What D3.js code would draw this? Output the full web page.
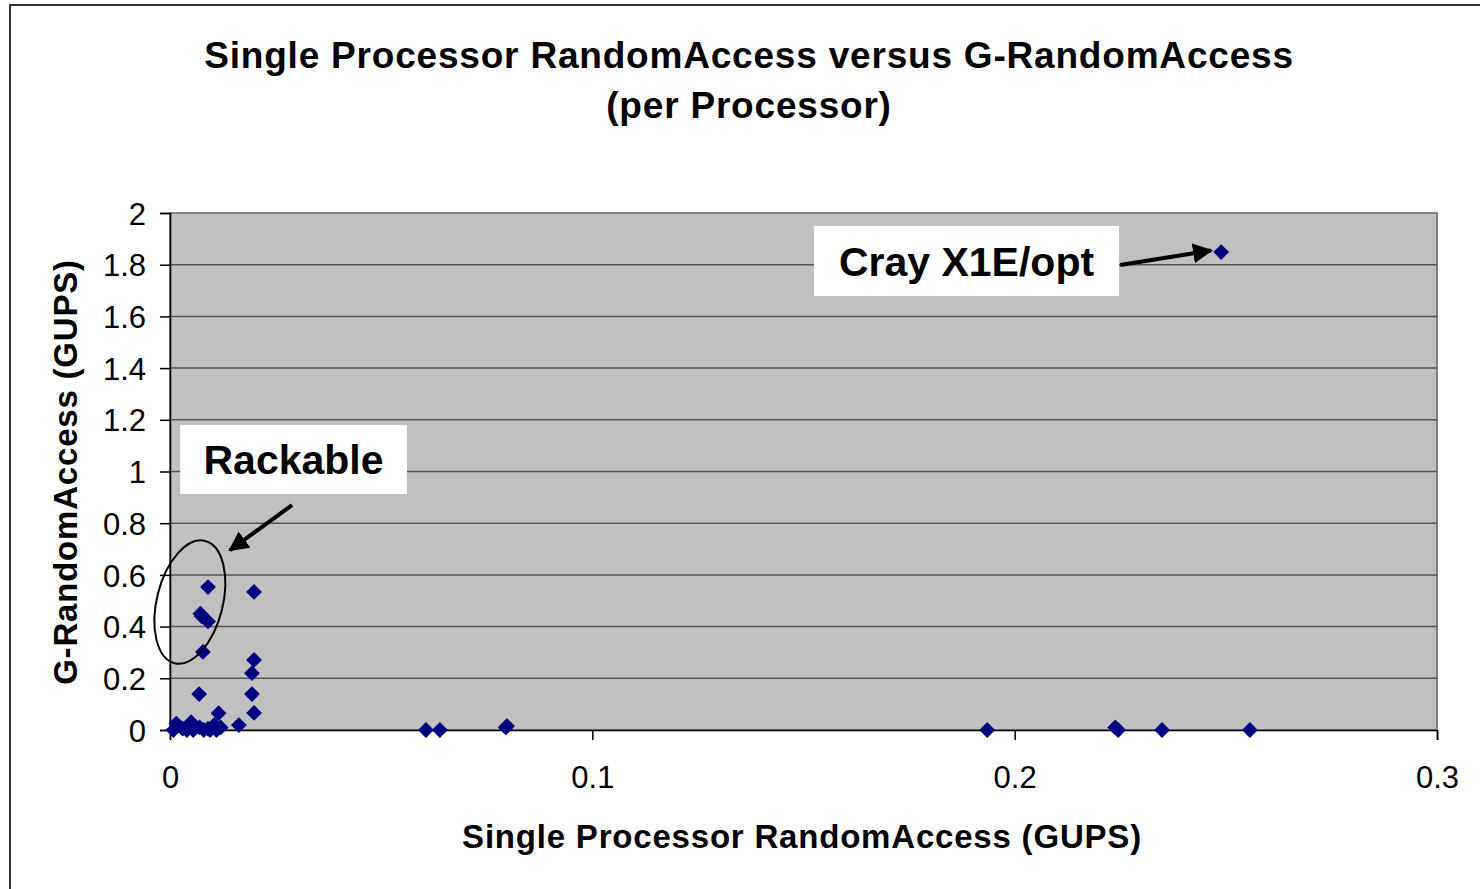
<!DOCTYPE html>
<html>
<head>
<meta charset="utf-8">
<script src="https://cdn.jsdelivr.net/npm/d3@7"></script>
<style>
    body { margin: 0; background: #fff; }
    svg text { font-family: "Liberation Sans", Arial, sans-serif; }
</style>
</head>
<body>
<svg id="chart" width="1480" height="889"></svg>
<script>
/***************************************************************
    Data
****************************************************************/
const chartTitle = ["Single Processor RandomAccess versus G-RandomAccess", "(per Processor)"];
const xLabel = "Single Processor RandomAccess (GUPS)";
const yLabel = "G-RandomAccess (GUPS)";

// single processor GUPS
const singleGups = [
    0.0008, 0.0015, 0.003, 0.004, 0.005, 0.0055, 0.007, 0.008, 0.009, 0.0095, 0.0105, 0.011, 0.012, 0.0115,
    0.0163, 0.0069, 0.0078, 0.0072, 0.0075, 0.009, 0.009, 0.0199, 0.0199, 0.0194, 0.0194, 0.0199,
    0.0606, 0.0639, 0.0798, 0.0795,
    0.1935, 0.2238, 0.2245, 0.2349, 0.2557, 0.2489
];
// global GUPS per processor
const globalGups = [
    0.0, 0.025, 0.005, 0.0, 0.03, 0.0, 0.01, 0.0, 0.005, 0.0, 0.02, 0.0, 0.01, 0.065,
    0.019, 0.139, 0.302, 0.45, 0.44, 0.42, 0.553, 0.534, 0.271, 0.22, 0.139, 0.066,
    0.0, 0.0, 0.015, 0.01,
    0.0, 0.01, 0.0, 0.0, 0.0, 1.849
];

const xTicks = [0, 0.1, 0.2, 0.3];
const yTicks = [0, 0.2, 0.4, 0.6, 0.8, 1, 1.2, 1.4, 1.6, 1.8, 2];

// annotations (data coordinates)
const rackable = { text: "Rackable", box: [0.0024, 1.18, 0.0561, 0.913], arrow: [0.0289, 0.87, 0.0142, 0.696] };
const cray = { text: "Cray X1E/opt", box: [0.1525, 1.95, 0.2247, 1.679], arrow: [0.225, 1.799, 0.2465, 1.855] };
const rackableRing = { cx: 0.0047, cy: 0.495 };

/***************************************************************
    Graph
****************************************************************/
const margin = { left: 170, top: 213, right: 43, bottom: 159 };
const width = 1480 - margin.left - margin.right;
const height = 889 - margin.top - margin.bottom;

const svg = d3.select("#chart");

// outer frame
svg.append("rect").attr("x", 10).attr("y", 5).attr("width", 1480).attr("height", 900)
    .attr("fill", "#fff").attr("stroke", "#333").attr("stroke-width", 2);

svg.append("defs").append("marker")
    .attr("id", "arrowhead").attr("viewBox", "0 0 10 10")
    .attr("refX", 9).attr("refY", 5)
    .attr("markerWidth", 5).attr("markerHeight", 5)
    .attr("markerUnits", "strokeWidth")
    .attr("orient", "auto")
    .append("path").attr("d", "M0,0 L10,5 L0,10 z").attr("fill", "#000");

const x = d3.scaleLinear().domain([0, 0.3]).range([0, width]);
const y = d3.scaleLinear().domain([0, 2]).range([height, 0]);

const g = svg.append("g").attr("transform", `translate(${margin.left},${margin.top})`);

g.append("rect").attr("width", width).attr("height", height)
    .attr("fill", "#c0c0c0").attr("stroke", "#808080").attr("stroke-width", 2);

// gridlines
g.append("g").selectAll("line").data(yTicks.slice(1, -1)).enter().append("line")
    .attr("x1", 0).attr("x2", width)
    .attr("y1", d => y(d)).attr("y2", d => y(d))
    .attr("stroke", "#555").attr("stroke-width", 1.5);

// axes
const yAxis = g.append("g").call(d3.axisLeft(y).tickValues(yTicks).tickSize(10).tickPadding(14)
    .tickFormat(d => d3.format("")(+d.toFixed(1))));
const xAxis = g.append("g").attr("transform", `translate(0,${height})`)
    .call(d3.axisBottom(x).tickValues(xTicks).tickSize(10).tickPadding(26)
    .tickFormat(d => d3.format("")(+d.toFixed(1))));
[xAxis, yAxis].forEach(a => {
    a.select(".domain").attr("stroke", "#000").attr("stroke-width", 1.5);
    a.selectAll(".tick line").attr("stroke", "#000").attr("stroke-width", 1.5);
    a.selectAll(".tick text").attr("font-size", 31).attr("fill", "#000")
        .attr("font-family", "'Liberation Sans', Arial, sans-serif");
});
yAxis.selectAll(".tick text").attr("dy", "0.36em");

// points
g.append("g").selectAll("path").data(singleGups).enter().append("path")
    .attr("d", d3.symbol(d3.symbolSquare, 125))
    .attr("transform", (d, i) => `translate(${x(d)},${y(globalGups[i])}) rotate(45)`)
    .attr("fill", "#000080");

// annotations
function drawLabel(a) {
    const [x0, y0, x1, y1] = a.box;
    g.append("rect").attr("x", x(x0)).attr("y", y(y0))
        .attr("width", x(x1) - x(x0)).attr("height", y(y1) - y(y0)).attr("fill", "#fff");
    g.append("text").attr("x", (x(x0) + x(x1)) / 2).attr("y", (y(y0) + y(y1)) / 2)
        .attr("dy", "0.36em").attr("text-anchor", "middle")
        .attr("font-size", 41).attr("font-weight", "bold").text(a.text);
    const [ax0, ay0, ax1, ay1] = a.arrow;
    g.append("line").attr("x1", x(ax0)).attr("y1", y(ay0)).attr("x2", x(ax1)).attr("y2", y(ay1))
        .attr("stroke", "#000").attr("stroke-width", 4).attr("marker-end", "url(#arrowhead)");
}
drawLabel(rackable);
drawLabel(cray);

g.append("ellipse")
    .attr("transform", `translate(${x(rackableRing.cx)},${y(rackableRing.cy)}) rotate(14)`)
    .attr("rx", 33).attr("ry", 63)
    .attr("fill", "none").attr("stroke", "#000").attr("stroke-width", 2);

// titles
svg.append("text").attr("x", 749).attr("y", 68).attr("text-anchor", "middle")
    .attr("font-size", 37).attr("font-weight", "bold").attr("letter-spacing", 0.8)
    .text(chartTitle[0]);
svg.append("text").attr("x", 749).attr("y", 118).attr("text-anchor", "middle")
    .attr("font-size", 37).attr("font-weight", "bold").attr("letter-spacing", 0.8)
    .text(chartTitle[1]);
svg.append("text").attr("x", 802).attr("y", 848).attr("text-anchor", "middle")
    .attr("font-size", 33).attr("font-weight", "bold").attr("letter-spacing", 0.8)
    .text(xLabel);
svg.append("text").attr("transform", "translate(77,472) rotate(-90)").attr("text-anchor", "middle")
    .attr("font-size", 33).attr("font-weight", "bold").attr("letter-spacing", 0.8)
    .text(yLabel);
</script>
</body>
</html>
